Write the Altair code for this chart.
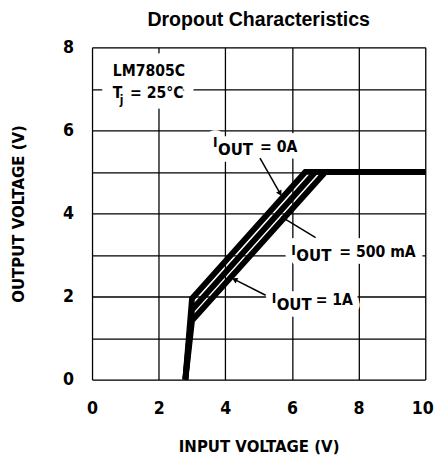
import math
import altair as alt
import pandas as pd

# ---- curve data ----
vin_0a = [2.8, 3.0, 6.4, 10.0]
vout_0a = [0.0, 1.95, 5.0, 5.0]
vin_500 = [2.8, 3.0, 6.7, 10.0]
vout_500 = [0.0, 1.68, 5.0, 5.0]
vin_1a = [2.8, 3.0, 7.0, 10.0]
vout_1a = [0.0, 1.42, 5.0, 5.0]
series_names = ["0A", "500mA", "1A"]

# ---- annotation texts (data units) ----
ann_text = ["LM7805C", "T", "j", "= 25°C",
            "I", "OUT", "= 0A",
            "I", "OUT", "= 500 mA",
            "I", "OUT", "= 1A"]
ann_x = [0.62, 0.62, 0.83, 1.14,
         3.63, 3.78, 5.04,
         5.98, 6.13, 7.42,
         5.39, 5.54, 6.71]
ann_y = [7.32, 6.79, 6.64, 6.79,
         5.60, 5.41, 5.48,
         2.99, 2.85, 2.96,
         1.84, 1.67, 1.79]
ann_size = [16, 16, 12, 16,
            14, 17, 16,
            14, 17, 16,
            14, 17, 16]
ann_halo = [22, 22, 22, 22,
            14, 14, 14,
            14, 14, 14,
            14, 14, 14]

# ---- arrows (tail -> tip, data units) ----
arr_x = [5.04, 6.71, 5.21]
arr_y = [5.33, 3.42, 2.03]
arr_x2 = [5.63, 5.76, 4.30]
arr_y2 = [4.50, 3.88, 2.40]

W, H = 341, 340
XMAX, YMAX = 10, 8
FONT = "DejaVu Sans Condensed"

rows = []
for name, xs, ys in zip(series_names, [vin_0a, vin_500, vin_1a], [vout_0a, vout_500, vout_1a]):
    for i, (a, b) in enumerate(zip(xs, ys)):
        rows.append({"series": name, "vin": a, "vout": b, "order": i})
curves = pd.DataFrame(rows)

ann = pd.DataFrame({"x": ann_x, "y": ann_y, "text": ann_text, "fs": ann_size, "halo": ann_halo})

px_x = W / XMAX
px_y = H / YMAX
angles = []
for x1, y1, x2, y2 in zip(arr_x, arr_y, arr_x2, arr_y2):
    ang = math.degrees(math.atan2((x2 - x1) * px_x, (y2 - y1) * px_y)) % 360
    angles.append(ang)
arrows = pd.DataFrame({"x": arr_x, "y": arr_y, "x2": arr_x2, "y2": arr_y2, "angle": angles})

xscale = alt.Scale(domain=[0, XMAX], nice=False, zero=False)
yscale = alt.Scale(domain=[0, YMAX], nice=False, zero=False)

xaxis = alt.Axis(
    values=list(range(0, 11)),
    labelExpr="datum.value % 2 === 0 ? datum.label : ''",
    grid=True, gridColor="black", gridWidth=1.3, gridOpacity=1,
    ticks=False, tickSize=0, domain=False,
    labelFont=FONT, labelFontSize=18, labelFontWeight="bold", labelColor="black",
    labelPadding=21, labelFlush=False, labelOverlap=False,
    labelOffset={"condition": {"test": "datum.value === 10", "value": -3}, "value": 0},
    title="INPUT VOLTAGE (V)", titleFont=FONT, titleFontSize=17, titleFontWeight="bold",
    titleColor="black", titleX=W / 2, titleY=69, titleBaseline="middle", titleAlign="center",
)
yaxis = alt.Axis(
    values=list(range(0, 9)),
    labelExpr="datum.value % 2 === 0 ? datum.label : ''",
    grid=True, gridColor="black", gridWidth=1.3, gridOpacity=1,
    ticks=False, tickSize=0, domain=False,
    labelFont=FONT, labelFontSize=18, labelFontWeight="bold", labelColor="black",
    labelPadding=19, labelFlush=False, labelOverlap=False, labelBaseline="middle",
    title="OUTPUT VOLTAGE (V)", titleFont=FONT, titleFontSize=17, titleFontWeight="bold",
    titleColor="black", titleX=-75, titleY=H / 2, titleBaseline="middle", titleAlign="center",
    titleAngle=270,
)

base_axes = alt.Chart(curves).mark_line(opacity=0).encode(
    x=alt.X("vin:Q", scale=xscale, axis=xaxis),
    y=alt.Y("vout:Q", scale=yscale, axis=yaxis),
)

halo = alt.Chart(ann).mark_text(
    align="left", baseline="alphabetic", font=FONT, fontWeight="bold",
    color="white", stroke="white", strokeJoin="round",
).encode(
    x=alt.X("x:Q", scale=xscale), y=alt.Y("y:Q", scale=yscale),
    text="text:N", size=alt.Size("fs:Q", scale=None, legend=None),
    strokeWidth=alt.StrokeWidth("halo:Q", scale=None, legend=None),
)

lines = alt.Chart(curves).mark_line(color="black", strokeWidth=6, strokeJoin="miter").encode(
    x=alt.X("vin:Q", scale=xscale), y=alt.Y("vout:Q", scale=yscale),
    detail="series:N", order="order:Q",
)

texts = alt.Chart(ann).mark_text(
    align="left", baseline="alphabetic", font=FONT, fontWeight="bold", color="black",
).encode(
    x=alt.X("x:Q", scale=xscale), y=alt.Y("y:Q", scale=yscale),
    text="text:N", size=alt.Size("fs:Q", scale=None, legend=None),
)

arrow_lines = alt.Chart(arrows).mark_rule(color="black", strokeWidth=1.5).encode(
    x=alt.X("x:Q", scale=xscale), y=alt.Y("y:Q", scale=yscale),
    x2="x2:Q", y2="y2:Q",
)
arrow_heads = alt.Chart(arrows).mark_point(
    shape="triangle", filled=True, color="black", size=40, opacity=1,
).encode(
    x=alt.X("x2:Q", scale=xscale), y=alt.Y("y2:Q", scale=yscale),
    angle=alt.Angle("angle:Q", scale=None),
)

chart = alt.layer(base_axes, halo, lines, texts, arrow_lines, arrow_heads).properties(
    width=W, height=H,
    autosize=alt.AutoSizeParams(type="none"),
    padding={"left": 86, "top": 35, "right": 12, "bottom": 75},
    title=alt.TitleParams(
        "Dropout Characteristics", font="Liberation Sans", fontSize=20, fontWeight="bold",
        color="black", anchor="middle", baseline="bottom", offset=6, dy=17,
    ),
).configure_view(stroke="black", strokeWidth=3).configure(background="white")

chart.save("out.html", embed_options={"renderer": "svg", "actions": False})
